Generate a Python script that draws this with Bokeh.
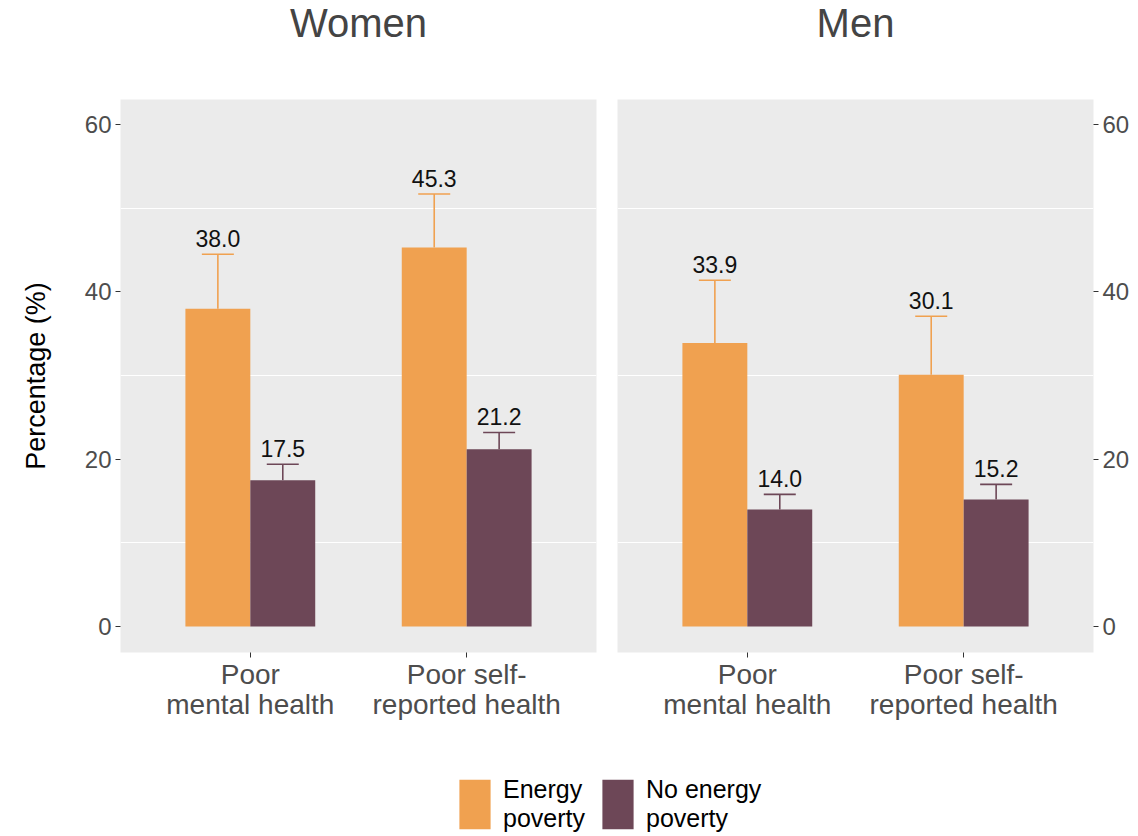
from bokeh.plotting import figure
from bokeh.models import (ColumnDataSource, FactorRange, Range1d, FixedTicker, Whisker,
                          TeeHead, Legend, LegendItem)
from bokeh.transform import dodge
from bokeh.layouts import column, row
from bokeh.embed import file_html
from bokeh.resources import INLINE
from bokeh.core.properties import value

# ---------------- data ----------------
categories = ["Poor\nmental health", "Poor self-\nreported health"]
series_names = ["Energy\npoverty", "No energy\npoverty"]
panel_titles = ["Women", "Men"]

women_ep = [38.0, 45.3]
women_ep_upper = [44.5, 51.7]
women_nep = [17.5, 21.2]
women_nep_upper = [19.4, 23.2]

men_ep = [33.9, 30.1]
men_ep_upper = [41.4, 37.1]
men_nep = [14.0, 15.2]
men_nep_upper = [15.8, 17.0]

y_ticks = [0, 20, 40, 60]
y_minor = [10, 30, 50]

# ---------------- style ----------------
FONT = "Liberation Sans"
ORANGE = "#F0A150"
PURPLE = "#6D4757"
PANEL_BG = "#EBEBEB"
TICK_TXT = "#4D4D4D"
FRAME_W, FRAME_H = 476, 553
STRIP_H = 44
TOP, BOTTOM = 99 - STRIP_H, 93


def make_strip(title, bl, br):
    s = figure(x_range=Range1d(0, 1), y_range=Range1d(0, 1),
               frame_width=FRAME_W, frame_height=STRIP_H,
               min_border_left=bl, min_border_right=br,
               min_border_top=0, min_border_bottom=0,
               x_axis_type=None, y_axis_type=None,
               output_backend="svg", toolbar_location=None)
    s.outline_line_color = None
    s.grid.grid_line_color = None
    s.background_fill_color = "white"
    s.text(x=[0.5], y=[0.5], text=[title], text_align="center",
           text_baseline="middle", text_font=value(FONT),
           text_font_size="40px", text_color="#444444")
    return s


def make_panel(ep, ep_up, nep, nep_up, side, bl, br):
    src = ColumnDataSource(dict(
        cat=categories, ep=ep, ep_up=ep_up, nep=nep, nep_up=nep_up,
        ep_lbl=[f"{v:.1f}" for v in ep], nep_lbl=[f"{v:.1f}" for v in nep]))
    p = figure(x_range=FactorRange(*categories, range_padding=0.1),
               y_range=Range1d(-3.1, 63.0),
               frame_width=FRAME_W, frame_height=FRAME_H,
               min_border_left=bl, min_border_right=br,
               min_border_top=TOP, min_border_bottom=BOTTOM,
               y_axis_location=side,
               output_backend="svg", toolbar_location=None)

    p.background_fill_color = PANEL_BG
    p.border_fill_color = "white"
    p.outline_line_color = None

    xo = dodge("cat", -0.15, range=p.x_range)
    xn = dodge("cat", 0.15, range=p.x_range)

    for x, top, up, lbl, col in [(xo, "ep", "ep_up", "ep_lbl", ORANGE),
                                 (xn, "nep", "nep_up", "nep_lbl", PURPLE)]:
        w = Whisker(base=x, lower=top, upper=up, source=src, dimension="height",
                    line_color=col, line_width=1.6,
                    upper_head=TeeHead(size=32, line_color=col, line_width=1.6),
                    lower_head=None)
        p.add_layout(w)
        p.vbar(x=x, top=top, bottom=0, width=0.3, source=src,
               fill_color=col, line_color=None)
        p.text(x=x, y=up, text=lbl, source=src, text_align="center",
               text_baseline="bottom", y_offset=-7,
               text_font=value(FONT), text_font_size="23px", text_color="#111111")

    p.xgrid.grid_line_color = None
    p.ygrid.ticker = FixedTicker(ticks=y_ticks, minor_ticks=y_minor)
    p.ygrid.grid_line_color = None
    p.ygrid.minor_grid_line_color = "white"
    p.ygrid.minor_grid_line_width = 1.2

    p.yaxis.ticker = FixedTicker(ticks=y_ticks, minor_ticks=y_minor)
    for ax in (p.xaxis[0], p.yaxis[0]):
        ax.axis_line_color = None
        ax.major_tick_line_color = "#333333"
        ax.major_tick_out = 5
        ax.major_tick_in = 0
        ax.minor_tick_line_color = None
        ax.major_label_text_font = FONT
        ax.major_label_text_color = TICK_TXT
    p.yaxis.major_label_text_font_size = "24px"
    p.yaxis.major_label_standoff = 4
    p.xaxis.major_label_text_font_size = "28px"
    p.xaxis.major_label_text_line_height = 0.98
    p.xaxis.major_label_standoff = 1
    return p


t1 = make_strip(panel_titles[0], 120, 10)
t2 = make_strip(panel_titles[1], 11, 37)

p1 = make_panel(women_ep, women_ep_upper, women_nep, women_nep_upper, "left", 120, 10)
p1.yaxis.axis_label = "Percentage (%)"
p1.yaxis.axis_label_text_font = FONT
p1.yaxis.axis_label_text_font_size = "27px"
p1.yaxis.axis_label_text_font_style = "normal"
p1.yaxis.axis_label_text_color = "#000000"
p1.yaxis.axis_label_standoff = 31

p2 = make_panel(men_ep, men_ep_upper, men_nep, men_nep_upper, "right", 11, 37)

# ---------------- legend strip ----------------
lp = figure(width=1130, height=90, x_range=Range1d(0, 1), y_range=Range1d(0, 1),
            min_border=0, x_axis_type=None, y_axis_type=None,
            output_backend="svg", toolbar_location=None)
lp.outline_line_color = None
lp.grid.grid_line_color = None
lp.background_fill_color = "white"
# legend-key renderers: their single point lies outside the visible range
r_ep = lp.vbar(x=[-5], top=[-5], bottom=[-6], width=0.1, fill_color=ORANGE, line_color=None)
r_nep = lp.vbar(x=[-5], top=[-5], bottom=[-6], width=0.1, fill_color=PURPLE, line_color=None)
legend = Legend(items=[LegendItem(label=series_names[0], renderers=[r_ep]),
                       LegendItem(label=series_names[1], renderers=[r_nep])],
                orientation="horizontal", location=(455, 0),
                padding=0, margin=0, spacing=13,
                glyph_width=39, glyph_height=62, label_standoff=9,
                label_text_font=FONT, label_text_font_size="25px",
                label_text_color="#000000", label_text_line_height=1.12,
                border_line_color=None, background_fill_alpha=0)
lp.add_layout(legend, "center")

layout = column(row(t1, t2), row(p1, p2), lp)
open("out.html", "w").write(file_html(layout, INLINE))
